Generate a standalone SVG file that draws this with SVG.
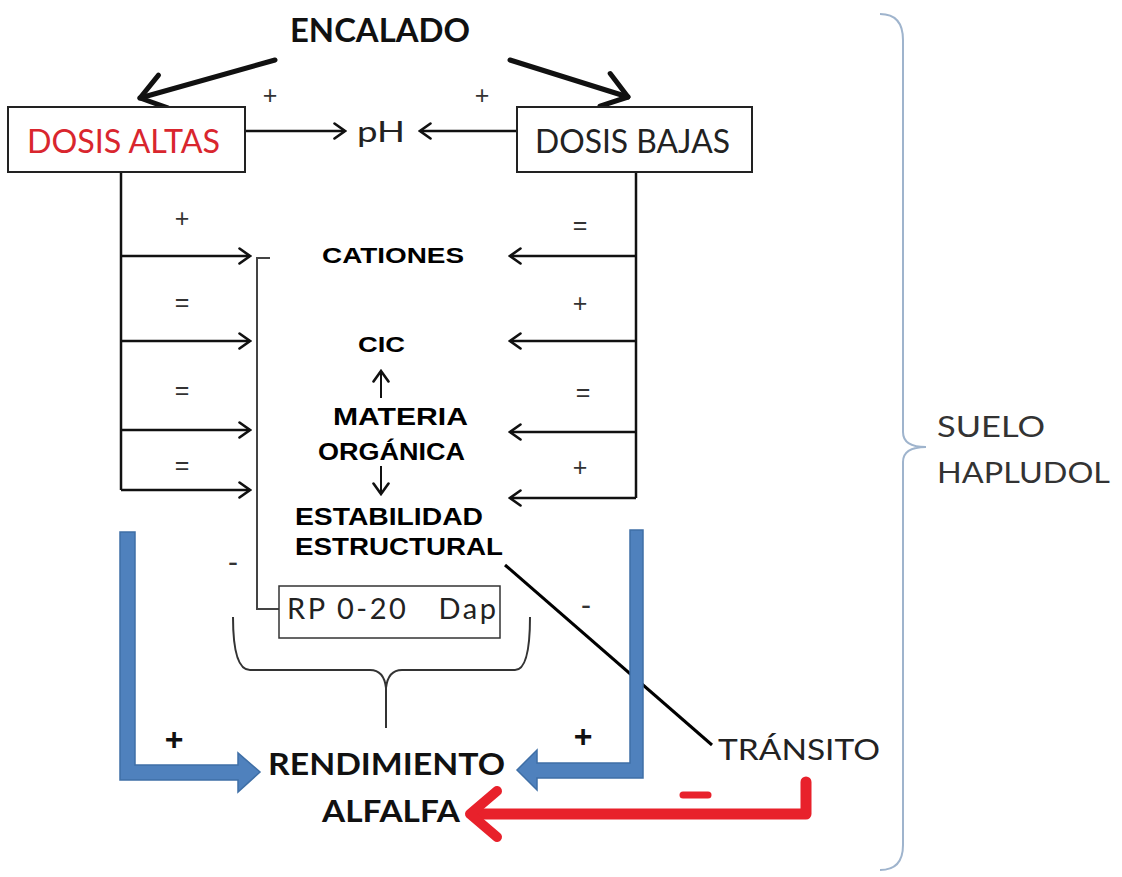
<svg xmlns="http://www.w3.org/2000/svg" width="1122" height="877" viewBox="0 0 1122 877">
<style>
.cal{font-family:Lato,"Open Sans","Liberation Sans",sans-serif}
.ari{font-family:"Liberation Sans",Arial,sans-serif;font-weight:bold;fill:#000}
.thin{stroke:#111;stroke-width:2.5;fill:none}
.sign{font-family:"Liberation Sans",Arial,sans-serif;font-size:25px;fill:#333;text-anchor:middle}
.big{font-size:32px;font-weight:bold;fill:#111}
.minus{font-size:30px}
.box{fill:#fff;stroke:#222;stroke-width:2}
</style>
<defs>
<marker id="arr" markerUnits="userSpaceOnUse" viewBox="0 0 14 18" refX="12" refY="9" markerWidth="14" markerHeight="18" orient="auto">
<path d="M1.5,1.5 L12,9 L1.5,16.5" fill="none" stroke="#111" stroke-width="2.6" stroke-linecap="round"/>
</marker>
<marker id="arrBig" markerUnits="userSpaceOnUse" viewBox="0 0 30 40" refX="27" refY="20" markerWidth="30" markerHeight="40" orient="auto">
<path d="M3,3 L27,20 L3,37" fill="none" stroke="#111" stroke-width="5" stroke-linecap="round" stroke-linejoin="round"/>
</marker>
</defs>
<rect width="1122" height="877" fill="#fff"/>

<g id="connectors">
<line x1="275" y1="60" x2="140" y2="98" stroke="#111" stroke-width="5" stroke-linecap="round" marker-end="url(#arrBig)"/>
<line x1="510" y1="60" x2="628" y2="97" stroke="#111" stroke-width="5" stroke-linecap="round" marker-end="url(#arrBig)"/>
<line class="thin" x1="245" y1="131" x2="345" y2="131" marker-end="url(#arr)"/>
<line class="thin" x1="517" y1="131" x2="420" y2="131" marker-end="url(#arr)"/>
<polyline class="thin" points="121,172 121,490"/>
<polyline class="thin" points="636,172 636,498"/>
<line class="thin" x1="121" y1="256" x2="250" y2="256" marker-end="url(#arr)"/>
<line class="thin" x1="121" y1="341" x2="250" y2="341" marker-end="url(#arr)"/>
<line class="thin" x1="121" y1="430" x2="250" y2="430" marker-end="url(#arr)"/>
<line class="thin" x1="121" y1="490" x2="250" y2="490" marker-end="url(#arr)"/>
<line class="thin" x1="636" y1="256" x2="510" y2="256" marker-end="url(#arr)"/>
<line class="thin" x1="636" y1="341" x2="510" y2="341" marker-end="url(#arr)"/>
<line class="thin" x1="636" y1="432" x2="510" y2="432" marker-end="url(#arr)"/>
<line class="thin" x1="636" y1="498" x2="510" y2="498" marker-end="url(#arr)"/>
<line x1="381" y1="398" x2="381" y2="371" stroke="#111" stroke-width="2" marker-end="url(#arr)"/>
<line x1="381" y1="466" x2="381" y2="494" stroke="#111" stroke-width="2" marker-end="url(#arr)"/>
<polyline points="270,258 257,258 257,609 279,609" fill="none" stroke="#444" stroke-width="2"/>
<path d="M233,617 Q233,670 250,670 L370,670 Q384,670 386,688 Q388,670 402,670 L515,670 Q530,670 530,617" fill="none" stroke="#333" stroke-width="2"/>
<line x1="386" y1="688" x2="386" y2="728" stroke="#333" stroke-width="2"/>
<line x1="505" y1="565" x2="712" y2="745" stroke="#000" stroke-width="3"/>
<polygon points="120,532 135,532 135,765 238,765 238,753 260,772 238,792 238,780 120,780" fill="#4f81bd" stroke="#3f6fa6" stroke-width="1.5"/>
<polygon points="630,530 643,530 643,778 537,778 537,790 517,770 537,750 537,763 630,763" fill="#4f81bd" stroke="#3f6fa6" stroke-width="1.5"/>
<path d="M806,782 L806,814 L474,814" fill="none" stroke="#e8212b" stroke-width="11" stroke-linecap="round" stroke-linejoin="round"/>
<path d="M497,791 L470,814 L497,837" fill="none" stroke="#e8212b" stroke-width="10" stroke-linecap="round" stroke-linejoin="round"/>
<line x1="683" y1="795" x2="708" y2="795" stroke="#e8212b" stroke-width="7" stroke-linecap="round"/>
<path d="M880,14 Q903,14 903,40 L903,432 Q903,447 926,447 Q903,447 903,462 L903,845 Q903,870 880,870" fill="none" stroke="#9fb4cd" stroke-width="2"/>
</g>

<g id="signs">
<text class="sign" x="270" y="104">+</text>
<text class="sign" x="482" y="104">+</text>
<text class="sign" x="182" y="227">+</text>
<text class="sign" x="182" y="311">=</text>
<text class="sign" x="182" y="399">=</text>
<text class="sign" x="182" y="474">=</text>
<text class="sign" x="580" y="234">=</text>
<text class="sign" x="580" y="312">+</text>
<text class="sign" x="583" y="401">=</text>
<text class="sign" x="580" y="476">+</text>
<text class="sign minus" x="233" y="572">-</text>
<text class="sign minus" x="586" y="615">-</text>
<text class="sign big" x="174" y="750">+</text>
<text class="sign big" x="583" y="747">+</text>
</g>

<g id="encalado"><text class="cal" x="290" y="42" font-size="33" font-weight="bold" fill="#111" textLength="180" lengthAdjust="spacingAndGlyphs">ENCALADO</text></g>
<g id="dosis-altas"><rect class="box" x="8" y="107" width="237" height="65"/><text class="cal" x="27" y="153" font-size="33" fill="#d9262e" textLength="193" lengthAdjust="spacingAndGlyphs">DOSIS ALTAS</text></g>
<g id="dosis-bajas"><rect class="box" x="517" y="107" width="235" height="65"/><text class="cal" x="535" y="153" font-size="33" fill="#222" textLength="195" lengthAdjust="spacingAndGlyphs">DOSIS BAJAS</text></g>
<g id="ph"><text class="cal" x="357" y="142" font-size="29" fill="#222" textLength="48" lengthAdjust="spacingAndGlyphs">pH</text></g>
<g id="cationes"><text class="ari" x="322" y="263" font-size="22" textLength="142" lengthAdjust="spacingAndGlyphs">CATIONES</text></g>
<g id="cic"><text class="ari" x="358" y="352" font-size="22" textLength="47" lengthAdjust="spacingAndGlyphs">CIC</text></g>
<g id="materia"><text class="ari" x="333" y="425" font-size="23" textLength="135" lengthAdjust="spacingAndGlyphs">MATERIA</text><text class="ari" x="318" y="460" font-size="23" textLength="147" lengthAdjust="spacingAndGlyphs">ORGÁNICA</text></g>
<g id="estabilidad"><text class="ari" x="295" y="525" font-size="24" textLength="188" lengthAdjust="spacingAndGlyphs">ESTABILIDAD</text><text class="ari" x="295" y="555" font-size="24" textLength="208" lengthAdjust="spacingAndGlyphs">ESTRUCTURAL</text></g>
<g id="rp"><rect x="279" y="586" width="221" height="52" fill="#fff" stroke="#333" stroke-width="1.5"/><text class="cal" x="287" y="619" font-size="29" fill="#222" textLength="209" lengthAdjust="spacing" xml:space="preserve">RP 0-20   Dap</text></g>
<g id="rendimiento"><text class="cal" x="268" y="775" font-size="31" font-weight="bold" fill="#111" textLength="237" lengthAdjust="spacingAndGlyphs">RENDIMIENTO</text><text class="cal" x="322" y="822" font-size="31" font-weight="bold" fill="#111" textLength="138" lengthAdjust="spacingAndGlyphs">ALFALFA</text></g>
<g id="transito"><text class="cal" x="718" y="760" font-size="29" fill="#222" textLength="162" lengthAdjust="spacingAndGlyphs">TRÁNSITO</text></g>
<g id="suelo"><text class="cal" x="937" y="437" font-size="29" fill="#333" textLength="108" lengthAdjust="spacingAndGlyphs">SUELO</text><text class="cal" x="937" y="483" font-size="29" fill="#333" textLength="173" lengthAdjust="spacingAndGlyphs">HAPLUDOL</text></g>
</svg>
